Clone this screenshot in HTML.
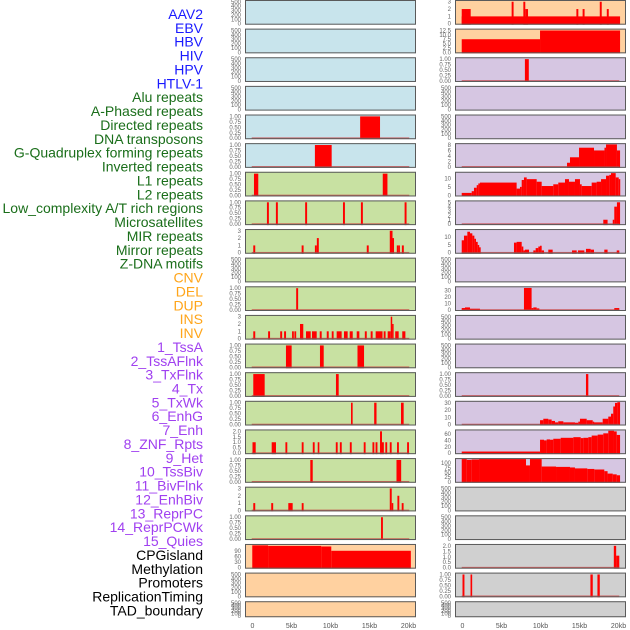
<!DOCTYPE html>
<html><head><meta charset="utf-8">
<style>
html,body{margin:0;padding:0;background:#fff;}
svg{display:block;}
text{font-family:"Liberation Sans",sans-serif;}
</style></head>
<body>
<svg id="chart" width="630" height="630" viewBox="0 0 630 630"></svg>
<script>
// ---- track labels ----
const labels = ["AAV2","EBV","HBV","HIV","HPV","HTLV-1","Alu repeats","A-Phased repeats","Directed repeats","DNA transposons","G-Quadruplex forming repeats","Inverted repeats","L1 repeats","L2 repeats","Low_complexity A/T rich regions","Microsatellites","MIR repeats","Mirror repeats","Z-DNA motifs","CNV","DEL","DUP","INS","INV","1_TssA","2_TssAFlnk","3_TxFlnk","4_Tx","5_TxWk","6_EnhG","7_Enh","8_ZNF_Rpts","9_Het","10_TssBiv","11_BivFlnk","12_EnhBiv","13_ReprPC","14_ReprPCWk","15_Quies","CPGisland","Methylation","Promoters","ReplicationTiming","TAD_boundary"];
const labelGroups = [6,13,5,15,5];
const groupColors = ["#1a1aff","#1a6e1a","#ffa51a","#a040f0","#000000"];

// ---- x axis ----
const xTickValues = [0,5,10,15,20];
const xTickLabels = ["0","5kb","10kb","15kb","20kb"];

// ---- tick sets ----
const T500 = ["0","100","200","300","400","500"];
const T1 = ["0.00","0.25","0.50","0.75","1.00"];
const T3 = ["0","1","2","3"];
const T2 = ["0.0","0.5","1.0","1.5","2.0"];

// ---- left column ----
const leftBg = ["b","b","b","b","b","b","g","g","g","g","g","g","g","g","g","g","g","g","g","o","o","o"];
const leftTicks = [T500,T500,T500,T500,T1,T1,T1,T1,T3,T500,T1,T3,T1,T1,T1,T2,T1,T3,T1,["0","30","60","90"],T500,T500];
const leftYmax = [520,520,520,520,1.04,1.04,1.04,1.04,3.1,520,1.04,3.1,1.04,1.04,1.04,2.08,1.04,3.1,1.04,121,520,520];
const leftBase = [0,0,0,0,1,1,1,1,1,0,1,1,1,1,1,1,1,1,1,0,0,0];
const leftBars = [
 [],[],[],[],
 [[13.8,16.35,1]],
 [[8.0,10.15,1]],
 [[0.19,0.74,1],[16.7,17.3,1]],
 [[1.85,2.1,1],[3.0,3.25,1],[6.75,7.0,1],[11.6,11.85,1],[13.9,14.15,1],[19.5,19.75,1]],
 [[0.1,0.35,1],[6.3,6.55,1],[8.0,8.25,1],[8.25,8.5,2],[14.65,14.9,1],[17.6,17.95,3],[17.95,18.1,2],[18.5,18.7,1],[18.7,18.9,1],[19.15,19.4,1]],
 [],
 [[5.6,5.85,1]],
 [[0.1,0.35,1],[2.0,2.25,1],[3.55,3.8,1],[4.05,4.3,1],[5.07,5.3,1],[5.37,5.6,1],[6.09,6.51,2],[6.86,7.46,1],[7.63,8.23,1],[8.62,8.87,1],[9.52,9.77,1],[10.16,10.4,1],[10.79,11.43,1],[11.73,12.2,1],[12.46,12.85,1],[13.36,13.7,1],[14.4,14.65,1],[15.15,15.4,1],[15.79,16.67,1],[16.82,17.06,1],[17.33,17.72,1],[17.72,17.9,3],[17.9,18.05,2],[18.3,18.74,1],[19.2,19.6,1]],
 [[4.29,5.02,1],[8.65,9.13,1],[13.46,14.3,1]],
 [[0.1,1.56,1],[10.7,11.05,1]],
 [[12.63,12.84,1],[15.6,15.9,1],[19.04,19.38,1]],
 [[0.0,0.41,1],[2.46,3.01,1],[4.22,4.46,1],[6.31,6.55,1],[7.73,7.97,1],[8.36,8.57,1],[10.68,10.92,1],[11.2,11.44,1],[12.48,12.72,1],[14.26,14.5,1],[15.38,15.62,1],[15.78,16.02,1],[16.35,16.6,2],[16.6,16.84,1],[17.03,17.27,1],[17.6,17.84,1],[18.53,18.77,1],[19.82,20.06,1]],
 [[7.41,7.72,1],[18.46,19.06,1]],
 [[0.1,0.35,1],[2.4,2.65,1],[4.59,5.15,1],[6.31,6.55,1],[17.6,17.85,3],[17.85,18.05,1],[18.58,18.82,2],[19.13,19.37,1]],
 [[16.48,16.72,1]],
 [[-0.03,2.0,119],[2.0,8.8,116],[8.8,10.1,113],[10.1,20.3,90]],
 [],[]
];

// ---- right column ----
const rightBg = ["o","o","p","p","p","p","p","p","p","p","p","p","p","p","p","p","p","x","x","x","x","x"];
const rightTicks = [T3,["0.0","2.5","5.0","7.5","10.0","12.5"],T1,T500,T500,["0","2","4","6","8"],["0","5","10"],["0","1","2","3","4","5"],["0","5","10"],T500,["0","10","20","30"],T500,T500,T1,["0","10","20","30"],["0","20","40","60"],["0","25","50","75","100"],T500,T500,T2,T1,T500];
const rightYmax = [3.1,13,1.04,520,520,8.3,13.2,5.2,14.6,520,35,520,520,1.04,31.5,71,122,520,520,2.08,1.04,520];
const rightBase = [0,0,1,0,0,1,0,1,1,0,1,0,0,1,1,0,0,0,0,1,1,0];

// profile tracks (step edges in kb + values)
const r6Edges = [-0.1,1.18,1.47,1.82,2.03,2.24,6.94,7.37,7.59,7.88,8.23,9.51,10.15,11.64,12.28,13.14,13.65,14.42,15.06,15.28,16.56,17.2,17.76,18.4,18.82,19.04,19.64,20.03,20.2];
const r6Vals = [1.5,2.5,4.5,6,7,7.5,4,5,9,10.5,9.5,8,5.5,6.5,7.5,9.5,8,9.5,6.5,5.5,7.5,8,9.5,11.5,12,13,10.5,9.5];
const r14Edges = [9.94,10.36,11.0,11.43,11.86,12.28,12.93,14.42,14.85,15.06,15.92,16.69,16.86,17.97,18.69,19.04,19.33,19.55,19.85,20.2];
const r14Vals = [6,8,7,5,3,4.5,3,2.5,4,8,6,4,3,8,11,15,25,30,31];
const r15Edges = [-0.1,9.94,10.45,10.79,11.22,11.64,12.59,14.21,15.15,15.49,16.13,16.56,17.33,18.05,18.69,19.42,19.77,20.2];
const r15Vals = [5,42,40,43,42,45,48,50,47,48,50,55,58,62,70,68,57];
const r16Edges = [-0.1,0.54,1.18,2.12,8.14,8.65,10.15,11.99,13.78,14.42,16.0,16.9,18.18,18.6,19.26,19.77,20.2];
const r16Vals = [122,118,120,122,88,122,82,80,77,72,69,66,57,44,40,35];

const rightBars = [
 [[-0.1,20.2,1],[-0.1,1.05,2],[6.3,6.55,3],[7.8,8.05,3],[8.05,8.4,2],[14.6,14.85,2],[15.4,15.65,2],[17.6,17.85,3],[18.5,18.75,2]],
 [[-0.1,9.94,7.5],[9.94,20.2,12.5]],
 [[8.0,8.5,1]],
 [],[],
 [[13.4,13.78,1.5],[13.78,14.94,3.5],[14.94,16.86,7],[16.86,18.2,6],[18.2,18.4,7],[18.4,19.8,8.2],[19.8,20.2,6]],
 [],
 [[18.05,18.6,1],[19.26,19.46,1],[19.46,19.8,4],[19.8,20.2,5]],
 [[-0.1,0.19,8],[0.19,0.62,11],[0.62,0.96,13.5],[0.96,1.26,12.5],[1.26,1.52,11],[1.52,1.73,9],[1.73,1.95,7],[1.95,2.12,5],[2.12,2.33,3.5],[6.6,6.94,6.5],[6.94,7.59,7],[7.59,7.8,4],[7.8,8.01,1.5],[8.01,8.53,2],[9.08,9.38,1.5],[9.38,9.72,3],[9.72,9.94,4],[9.94,10.15,4.5],[10.15,10.45,1.5],[11.0,11.56,2],[14.04,14.64,1.5],[14.81,15.62,1.5],[15.83,16.43,2.5],[16.43,16.86,2],[18.18,18.6,2],[19.77,20.1,1.5]],
 [],
 [[-0.1,0.32,3],[0.32,0.96,4],[0.96,2.24,2],[7.88,8.86,34],[8.86,9.08,3],[9.08,9.51,4],[9.51,9.85,2.5],[19.46,20.1,3]],
 [],[],
 [[15.83,16.13,1]],
 [],[],[],[],[],
 [[19.4,19.7,2],[19.7,20.1,1.1]],
 [[0,0.25,1],[1.03,1.24,1],[16.4,16.7,1],[17.3,17.6,1]],
 []
];

const bgColors = {b:"#c8e4ec",g:"#c8e1a2",o:"#ffd1a0",p:"#d6c6e2",x:"#d0d0d0"};
const NS = "http://www.w3.org/2000/svg";
const svg = document.getElementById("chart");

function mk(tag, attrs, parent){
  const e = document.createElementNS(NS, tag);
  for (const k in attrs) e.setAttribute(k, attrs[k]);
  (parent||svg).appendChild(e);
  return e;
}
function profileToBars(edges, vals){
  const out = [];
  for (let i=0;i<vals.length;i++) out.push([edges[i],edges[i+1],vals[i]]);
  return out;
}
rightBars[6] = profileToBars(r6Edges, r6Vals);
rightBars[14] = profileToBars(r14Edges, r14Vals);
rightBars[15] = profileToBars(r15Edges, r15Vals);
rightBars[16] = profileToBars(r16Edges, r16Vals);

// labels
let li = 0;
labelGroups.forEach((n, gi) => {
  for (let k=0;k<n;k++){
    const t = mk("text", {x:203, y:(19 + li*13.87).toFixed(1), "text-anchor":"end", "font-size":"14", fill:groupColors[gi]});
    
    
    t.textContent = labels[li];
    li++;
  }
});

const PITCH = 28.63, H = 24.7, SCALE = 7.8;
function drawColumn(px, x0, bgs, ticks, ymaxs, bases, bars, colName){
  for (let r=0;r<bgs.length;r++){
    const top = r*PITCH;
    const h = (r===bgs.length-1) ? 16 : H;
    const bottom = top + h;
    const ymax = ymaxs[r];
    const yS = v => bottom - 1 - v/ymax*(h-2);
    const xS = kb => x0 + kb*SCALE;
    const g = mk("g", {});
    
    
    mk("rect", {x:px, y:top, width:171, height:h, fill:bgColors[bgs[r]]}, g);
    bars[r].forEach(b => {
      const y1 = yS(b[2]), y0 = yS(0);
      const rc = mk("rect", {x:xS(b[0]).toFixed(2), y:y1.toFixed(2), width:Math.max(1.5,(b[1]-b[0])*SCALE).toFixed(2), height:Math.max(0,y0-y1+1).toFixed(2), fill:"#ff0000"}, g);
      
      
    });
    if (bases[r]){
      const bl = mk("rect", {x:xS(-0.1), y:(yS(0)-0.8).toFixed(2), width:(20.2*SCALE).toFixed(2), height:1.6, fill:"#c83c3c", opacity:"0.75"}, g);
      
      
    }
    mk("rect", {x:px+0.5, y:top+0.5, width:170, height:h-1, fill:"none", stroke:"#5a5a5a", "stroke-width":"1"}, g);
    ticks[r].forEach(tl => {
      const v = parseFloat(tl);
      const t = mk("text", {x:px-4, y:(yS(v)+2).toFixed(2), "text-anchor":"end", "font-size":"6", fill:"#666"}, g);
      
      
      t.textContent = tl;
    });
  }
  xTickValues.forEach((v,i) => {
    const t = mk("text", {x:(x0+v*SCALE).toFixed(2), y:628, "text-anchor":"middle", "font-size":"7", fill:"#555"});
    
    
    t.textContent = xTickLabels[i];
  });
}
drawColumn(245, 252.5, leftBg, leftTicks, leftYmax, leftBase, leftBars, "left");
drawColumn(455, 462.5, rightBg, rightTicks, rightYmax, rightBase, rightBars, "right");
</script>
</body></html>
